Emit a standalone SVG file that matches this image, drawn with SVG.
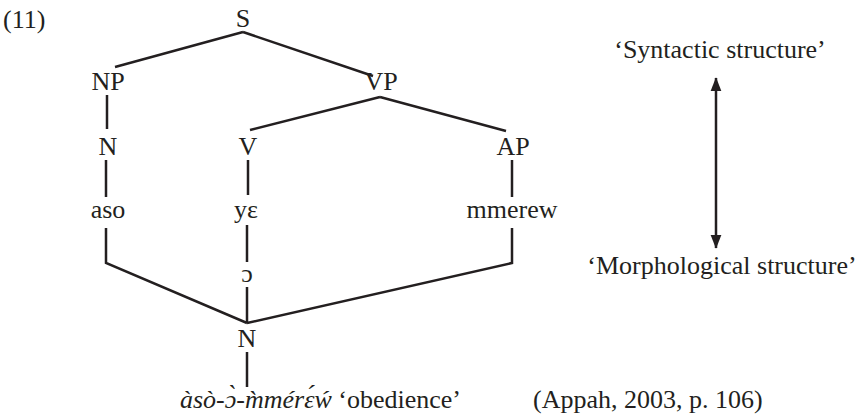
<svg xmlns="http://www.w3.org/2000/svg" width="862" height="419" viewBox="0 0 862 419">
  <style>
    text { font-family: "Liberation Serif", "Times New Roman", serif; font-size: 26px; fill: #231f20; }
    .c { text-anchor: middle; }
    .edge { stroke: #231f20; stroke-width: 2.5; fill: none; stroke-linejoin: miter; }
    .it { font-style: italic; }
  </style>
  <defs>
    <marker id="head" markerUnits="userSpaceOnUse" markerWidth="14" markerHeight="18" refX="17" refY="7" orient="auto-start-reverse" viewBox="0 0 18 14">
      <path d="M0,0 L18,7 L0,14 Z" fill="#231f20"/>
    </marker>
  </defs>

  <text id="label-11" x="3" y="28">(11)</text>

  <!-- connectors -->
  <g id="connectors">
    <line class="edge" x1="243" y1="32" x2="115" y2="67"/>
    <line class="edge" x1="243" y1="32" x2="373" y2="76"/>
    <line class="edge" x1="107" y1="95" x2="107" y2="129"/>
    <line class="edge" x1="380" y1="97" x2="250" y2="130"/>
    <line class="edge" x1="380" y1="97" x2="506" y2="131"/>
    <line class="edge" x1="106" y1="160" x2="106" y2="197"/>
    <line class="edge" x1="248" y1="160" x2="248" y2="195"/>
    <line class="edge" x1="512" y1="160" x2="512" y2="197"/>
    <polyline class="edge" points="106,228 106,263 247,323"/>
    <polyline class="edge" points="512,228 512,263 247,323"/>
    <line class="edge" x1="247" y1="225" x2="247" y2="262"/>
    <line class="edge" x1="247" y1="287" x2="247" y2="323"/>
    <line class="edge" x1="247" y1="352" x2="247" y2="387"/>
    <line class="edge" x1="716" y1="78" x2="716" y2="248" marker-start="url(#head)" marker-end="url(#head)"/>
  </g>

  <!-- syntactic tree -->
  <g id="node-S"><text class="c" x="243" y="27">S</text></g>
  <g id="node-NP"><text class="c" x="108" y="90">NP</text></g>
  <g id="node-VP"><text class="c" x="381" y="90">VP</text></g>
  <g id="node-N"><text class="c" x="108" y="155">N</text></g>
  <g id="node-V"><text class="c" x="248" y="155">V</text></g>
  <g id="node-AP"><text class="c" x="513" y="155">AP</text></g>
  <g id="node-aso"><text class="c" x="108" y="218">aso</text></g>
  <g id="node-ye"><text class="c" x="246" y="218">yɛ</text></g>
  <g id="node-mmerew"><text class="c" x="512" y="218">mmerew</text></g>

  <!-- morphological structure -->
  <g id="node-o"><text class="c" x="247" y="282">ɔ</text></g>
  <g id="node-N-word"><text class="c" x="247" y="347">N</text></g>
  <g id="node-word"><text x="180" y="408"><tspan class="it">àsò-ɔ̀-m̀mérɛ́ẃ</tspan> ‘obedience’</text></g>

  <!-- legend -->
  <g id="label-syntactic"><text class="c" x="720" y="58">‘Syntactic structure’</text></g>
  <g id="label-morphological"><text class="c" x="722" y="274">‘Morphological structure’</text></g>
  <g id="citation"><text x="533" y="408">(Appah, 2003, p. 106)</text></g>
</svg>
